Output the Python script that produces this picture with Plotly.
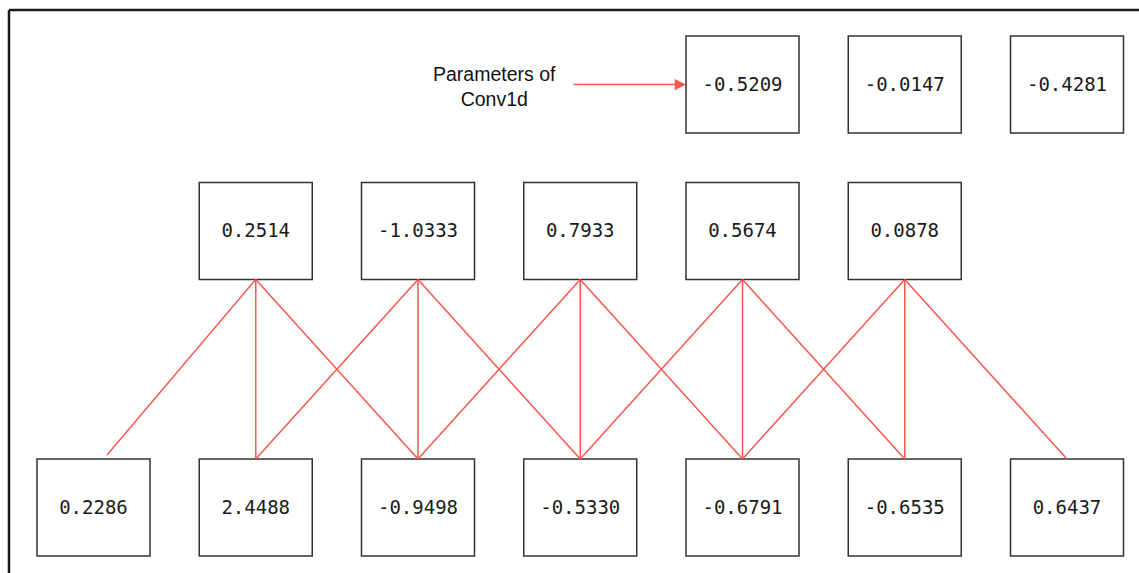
import plotly.graph_objects as go

# Data
input_values = ["0.2286", "2.4488", "-0.9498", "-0.5330", "-0.6791", "-0.6535", "0.6437"]
output_values = ["0.2514", "-1.0333", "0.7933", "0.5674", "0.0878"]
kernel_values = ["-0.5209", "-0.0147", "-0.4281"]
label_text = "Parameters of<br>Conv1d"

W, H = 1139, 573
col0 = 93.5
step = 162.25
bw, bh = 113, 97
row_y = {"top": 84.5, "mid": 231, "bot": 507.5}
red = "#f9574d"
box_col = "#333333"
mono = "DejaVu Sans Mono, Courier New, monospace"
# drawing quirk of the original: the first edge stops short of its box
edge_end_offset = {(0, 0): (13.5, -4)}

def cx(col):
    return col0 + step * col

fig = go.Figure()
shapes = []

# frame
shapes.append(dict(type="line", x0=9, x1=W, y0=10, y1=10, line=dict(color="#1a1a1a", width=2.5)))
shapes.append(dict(type="line", x0=9, x1=9, y0=10, y1=H, line=dict(color="#1a1a1a", width=2.5)))

# connections: output i at column i+1 connects to inputs i, i+1, i+2
kernel = len(kernel_values)
for i in range(len(output_values)):
    for k in range(kernel):
        dx, dy = edge_end_offset.get((i, k), (0, 0))
        xs = [cx(i + 1), cx(i + k) + dx]
        ys = [row_y["mid"] + bh / 2, row_y["bot"] - bh / 2 + dy]
        fig.add_trace(go.Scatter(x=xs, y=ys, mode="lines",
                                 line=dict(color=red, width=1.5),
                                 hoverinfo="skip", showlegend=False))

def add_row(values, start_col, yc):
    for j, v in enumerate(values):
        c = cx(start_col + j)
        shapes.append(dict(type="rect", x0=c - bw / 2, x1=c + bw / 2,
                           y0=yc - bh / 2, y1=yc + bh / 2,
                           line=dict(color=box_col, width=1.5), fillcolor="white",
                           layer="below"))
    fig.add_trace(go.Scatter(x=[cx(start_col + j) for j in range(len(values))],
                             y=[yc + 1.5] * len(values), mode="text", text=values,
                             textfont=dict(family=mono, size=19, color="#1a1a1a"),
                             hoverinfo="skip", showlegend=False))

add_row(input_values, 0, row_y["bot"])
add_row(output_values, 1, row_y["mid"])
add_row(kernel_values, 4, row_y["top"])

# arrow to kernel
fig.add_annotation(x=cx(4) - bw / 2, y=row_y["top"], ax=572, ay=row_y["top"],
                   xref="x", yref="y", axref="x", ayref="y", text="",
                   showarrow=True, arrowhead=2, arrowsize=1.5, arrowwidth=1.5,
                   arrowcolor=red, standoff=0)
fig.add_annotation(x=494, y=86, xref="x", yref="y", text=label_text, showarrow=False,
                   font=dict(family="Liberation Sans, Arial, sans-serif", size=19.5, color="#111111"),
                   align="center")

fig.update_layout(
    width=W, height=H, margin=dict(l=0, r=0, t=0, b=0),
    plot_bgcolor="white", paper_bgcolor="white", shapes=shapes,
    xaxis=dict(range=[0, W], visible=False, fixedrange=True),
    yaxis=dict(range=[H, 0], visible=False, fixedrange=True),
)
fig.write_html("out.html", config={"displayModeBar": False},
               post_script="document.body.style.margin='0';document.body.style.overflow='hidden';")
